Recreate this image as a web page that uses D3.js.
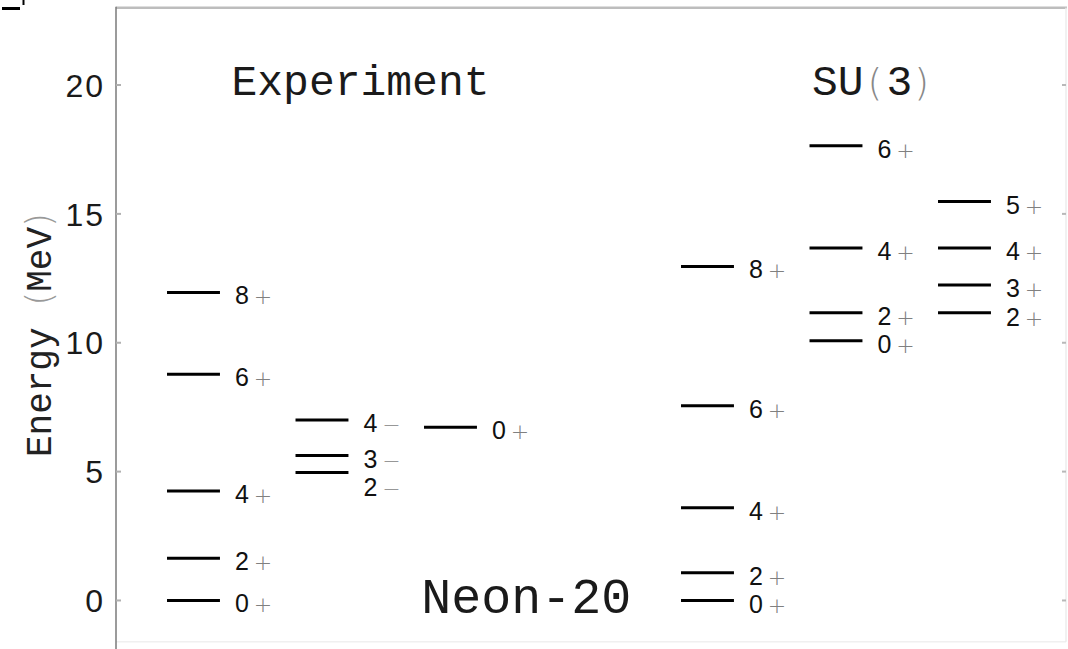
<!DOCTYPE html>
<html>
<head>
<meta charset="utf-8">
<script src="https://cdn.jsdelivr.net/npm/d3@7"></script>
<style>
  html, body { margin: 0; padding: 0; background: #fff; }
  svg { display: block; }
</style>
</head>
<body>
<svg id="chart" width="1068" height="649"></svg>
<script>
// Neon-20 level scheme: measured levels vs. SU(3) rotational bands (MeV)
const columns      = [0, 1, 2, 4, 5, 6];            // column slots (slot 3 left empty)
const expGround    = { col: 0, spins: [0, 2, 4, 6, 8], parity: ["+", "+", "+", "+", "+"], energies: [0, 1.64, 4.25, 8.78, 11.95] };
const expNegative  = { col: 1, spins: [2, 3, 4],       parity: ["-", "-", "-"],           energies: [4.97, 5.62, 7.00] };
const expExcited   = { col: 2, spins: [0],             parity: ["+"],                     energies: [6.72] };
const su3Ground    = { col: 4, spins: [0, 2, 4, 6, 8], parity: ["+", "+", "+", "+", "+"], energies: [0, 1.08, 3.60, 7.56, 12.96] };
const su3Beta      = { col: 5, spins: [0, 2, 4, 6],    parity: ["+", "+", "+", "+"],      energies: [10.08, 11.16, 13.68, 17.64] };
const su3Gamma     = { col: 6, spins: [2, 3, 4, 5],    parity: ["+", "+", "+", "+"],      energies: [11.16, 12.24, 13.68, 15.48] };
const bands = [expGround, expNegative, expExcited, su3Ground, su3Beta, su3Gamma];

const yTicks = [0, 5, 10, 15, 20];
const headings = ["Experiment", "SU(3)"];
const nucleusName = "Neon-20";
const axisTitle = "Energy (MeV)";

const svg = d3.select("#chart");
const W = 1068, H = 649;
const plotLeft = 116, plotRight = 1066;

const x = d3.scaleLinear().domain([-0.603, 6.79]).range([plotLeft, plotRight]);
const y = d3.scaleLinear().domain([-1.6, 23]).range([641.7, 7.7]);
const halfW = 0.206;           // half width of a level line, in column units
const minGap = 28.5;           // min vertical spacing between labels in px

// frame
const yTop = y(23), yBottom = y(-1.6);
svg.append("line").attr("x1", plotLeft).attr("x2", plotRight + 1).attr("y1", yTop).attr("y2", yTop)
  .attr("stroke", "#bdbdbd").attr("stroke-width", 2.5);
svg.append("line").attr("x1", plotLeft).attr("x2", plotRight).attr("y1", yBottom).attr("y2", yBottom)
  .attr("stroke", "#f0f0f0").attr("stroke-width", 1.5);
svg.append("line").attr("x1", plotRight).attr("x2", plotRight).attr("y1", yTop).attr("y2", yBottom)
  .attr("stroke", "#ececec").attr("stroke-width", 1.5);

// left axis
const yAxis = d3.axisLeft(y).tickValues(yTicks).tickSize(0).tickPadding(11).tickFormat(d3.format("d"));
const gAxis = svg.append("g").attr("transform", `translate(${plotLeft},0)`).call(yAxis);
gAxis.select(".domain").remove();
gAxis.selectAll("text")
  .attr("font-family", "'Liberation Sans', Arial, sans-serif")
  .attr("font-size", 32).attr("fill", "#1a1a1a").attr("letter-spacing", 2)
  .attr("dy", "0.35em");
svg.append("line").attr("x1", plotLeft).attr("x2", plotLeft).attr("y1", yTop - 1).attr("y2", H)
  .attr("stroke", "#7a7a7a").attr("stroke-width", 1.5);
// inner tick marks on both sides
svg.append("g").selectAll("line").data(yTicks).join("line")
  .attr("x1", plotLeft).attr("x2", plotLeft + 5).attr("y1", d => y(d)).attr("y2", d => y(d))
  .attr("stroke", "#b0b0b0").attr("stroke-width", 2);
svg.append("g").selectAll("line").data(yTicks).join("line")
  .attr("x1", plotRight - 4).attr("x2", plotRight).attr("y1", d => y(d)).attr("y2", d => y(d))
  .attr("stroke", "#b8b8b8").attr("stroke-width", 2);

// axis title
svg.append("text")
  .attr("transform", `translate(51,${y(10.3)}) rotate(-90)`)
  .attr("text-anchor", "middle")
  .attr("font-family", "'Liberation Mono', 'Courier New', monospace")
  .attr("font-size", 36).attr("fill", "#222")
  .call(t => {
    t.append("tspan").text("Energy ");
    t.append("tspan").attr("fill", "#999").attr("font-family", "'DejaVu Sans', sans-serif").attr("font-weight", 200).text("(");
    t.append("tspan").text("MeV");
    t.append("tspan").attr("fill", "#999").attr("font-family", "'DejaVu Sans', sans-serif").attr("font-weight", 200).text(")");
  });

// headings
const mono = "'Liberation Mono', 'Courier New', monospace";
svg.append("text").attr("x", x(0) + 38).attr("y", y(19.6))
  .attr("font-family", mono).attr("font-size", 43).attr("fill", "#1a1a1a")
  .text(headings[0]);
svg.append("text").attr("x", x(5) - 24).attr("y", y(19.6))
  .attr("font-family", mono).attr("font-size", 43).attr("fill", "#1a1a1a")
  .call(t => {
    const s = headings[1];
    t.append("tspan").text(s.slice(0, 2));
    t.append("tspan").attr("fill", "#888").attr("font-family", "'DejaVu Sans', sans-serif").attr("font-weight", 200).attr("font-size", 38).attr("dx", 4).text(s[2]);
    t.append("tspan").attr("dx", 4).text(s[3]);
    t.append("tspan").attr("fill", "#888").attr("font-family", "'DejaVu Sans', sans-serif").attr("font-weight", 200).attr("font-size", 38).attr("dx", 2).text(s[4]);
  });
svg.append("text").attr("x", x(2.59)).attr("y", y(-0.5))
  .attr("text-anchor", "middle")
  .attr("font-family", mono).attr("font-size", 50).attr("fill", "#1a1a1a")
  .text(nucleusName);

// levels
const levels = bands.flatMap(b => b.energies.map((e, i) => ({ col: b.col, E: e, J: b.spins[i], p: b.parity[i] })));
svg.append("g").selectAll("line").data(levels).join("line")
  .attr("x1", d => x(d.col - halfW)).attr("x2", d => x(d.col + halfW))
  .attr("y1", d => y(d.E)).attr("y2", d => y(d.E))
  .attr("stroke", "#000").attr("stroke-width", 3);

// labels, pushed apart downward where levels crowd
bands.forEach(b => {
  const items = b.energies.map((e, i) => ({ E: e, J: b.spins[i], p: b.parity[i], ly: y(e) }))
    .sort((a, c) => a.ly - c.ly);
  for (let i = 1; i < items.length; i++) {
    if (items[i].ly - items[i - 1].ly < minGap) items[i].ly = items[i - 1].ly + minGap;
  }
  const x0 = x(b.col + halfW) + 15;
  items.forEach(d => {
    const t = svg.append("text").attr("x", x0).attr("y", d.ly + 12)
      .attr("font-family", "'Liberation Sans', Arial, sans-serif").attr("font-size", 25).attr("fill", "#111");
    t.append("tspan").text(d.J);
    t.append("tspan").attr("dx", 5).attr("fill", "#808080").attr("font-size", 22)
      .attr("font-family", "'DejaVu Sans', sans-serif").attr("font-weight", 200)
      .text(d.p === "+" ? "+" : "\u2212");
  });
});

// small corner mark
svg.append("line").attr("x1", 2).attr("x2", 20).attr("y1", 8.5).attr("y2", 8.5).attr("stroke", "#000").attr("stroke-width", 3);
svg.append("line").attr("x1", 23.5).attr("x2", 23.5).attr("y1", 0).attr("y2", 5).attr("stroke", "#000").attr("stroke-width", 2);
</script>
</body>
</html>
